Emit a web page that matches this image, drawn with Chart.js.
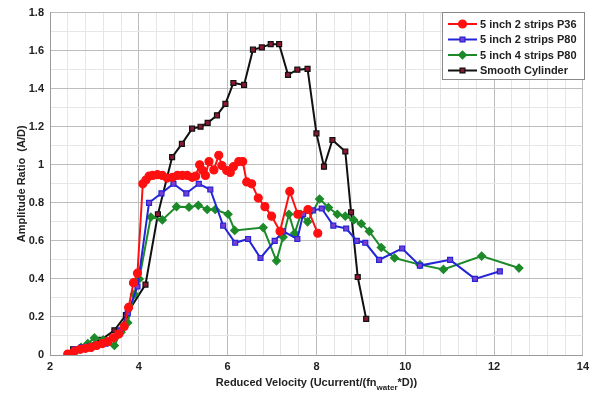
<!DOCTYPE html>
<html><head><meta charset="utf-8">
<script src="https://cdn.jsdelivr.net/npm/chart.js@4.4.0/dist/chart.umd.min.js"></script>
<style>html,body{margin:0;padding:0;background:#fff;}#wrap{position:relative;width:594px;height:395px;}</style>
</head><body><div id="wrap"><canvas id="c" width="594" height="395"></canvas></div>
<script>
const seriesNames = ["5 inch 2 strips P36", "5 inch 2 strips P80", "5 inch 4 strips P80", "Smooth Cylinder"];

const p36X = [2.40, 2.55, 2.68, 2.80, 2.92, 3.05, 3.18, 3.30, 3.42, 3.55, 3.67, 3.77, 3.88, 3.97, 4.09, 4.16, 4.23, 4.31, 4.42, 4.53, 4.64, 4.76, 4.87, 4.98, 5.09, 5.20, 5.28, 5.37, 5.44, 5.50, 5.58, 5.69, 5.80, 5.87, 5.98, 6.06, 6.13, 6.25, 6.34, 6.43, 6.54, 6.69, 6.84, 6.99, 7.18, 7.40, 7.58, 7.81, 8.03];
const p36Y = [0.005, 0.02, 0.03, 0.035, 0.04, 0.05, 0.06, 0.07, 0.09, 0.11, 0.15, 0.25, 0.38, 0.43, 0.90, 0.92, 0.94, 0.944, 0.948, 0.944, 0.93, 0.934, 0.944, 0.944, 0.944, 0.934, 0.94, 1.0, 0.97, 0.944, 1.017, 0.973, 1.05, 0.996, 0.97, 0.96, 0.99, 1.017, 1.017, 0.91, 0.90, 0.825, 0.78, 0.73, 0.65, 0.86, 0.74, 0.765, 0.64];

const p80X = [2.55, 2.71, 2.90, 3.05, 3.25, 3.41, 3.58, 3.75, 3.97, 4.23, 4.51, 4.78, 5.07, 5.35, 5.61, 5.90, 6.17, 6.46, 6.74, 7.06, 7.25, 7.57, 7.70, 7.92, 8.12, 8.38, 8.67, 8.91, 9.10, 9.41, 9.93, 10.33, 11.01, 11.57, 12.13];
const p80Y = [0.03, 0.04, 0.045, 0.05, 0.06, 0.09, 0.13, 0.22, 0.36, 0.80, 0.85, 0.90, 0.85, 0.90, 0.87, 0.68, 0.59, 0.61, 0.51, 0.60, 0.65, 0.61, 0.74, 0.76, 0.77, 0.68, 0.665, 0.60, 0.59, 0.50, 0.56, 0.47, 0.50, 0.40, 0.44];

const s4X = [2.70, 2.85, 3.00, 3.20, 3.45, 3.60, 3.75, 3.90, 4.01, 4.27, 4.53, 4.85, 5.13, 5.34, 5.54, 5.72, 6.01, 6.16, 6.80, 7.10, 7.25, 7.38, 7.51, 7.65, 7.80, 8.07, 8.27, 8.47, 8.65, 8.84, 9.01, 9.19, 9.46, 9.76, 10.33, 10.86, 11.72, 12.56];
const s4Y = [0.04, 0.06, 0.09, 0.08, 0.05, 0.12, 0.17, 0.32, 0.40, 0.725, 0.71, 0.78, 0.777, 0.787, 0.765, 0.765, 0.74, 0.655, 0.67, 0.495, 0.62, 0.74, 0.64, 0.74, 0.70, 0.82, 0.775, 0.74, 0.73, 0.71, 0.69, 0.65, 0.565, 0.51, 0.475, 0.45, 0.52, 0.457];

const smX = [2.52, 2.85, 3.15, 3.45, 3.71, 4.15, 4.43, 4.75, 4.97, 5.20, 5.39, 5.55, 5.76, 5.95, 6.13, 6.37, 6.57, 6.77, 6.97, 7.16, 7.36, 7.57, 7.80, 8.00, 8.17, 8.36, 8.65, 8.78, 8.93, 9.12];
const smY = [0.03, 0.05, 0.08, 0.13, 0.21, 0.37, 0.74, 1.04, 1.11, 1.19, 1.20, 1.22, 1.26, 1.32, 1.43, 1.42, 1.605, 1.617, 1.634, 1.634, 1.473, 1.50, 1.504, 1.165, 0.99, 1.13, 1.07, 0.75, 0.41, 0.19];

const xMajorLabels = ["2", "4", "6", "8", "10", "12", "14"];
const yMajorLabels = ["0", "0.2", "0.4", "0.6", "0.8", "1", "1.2", "1.4", "1.6", "1.8"];
const xTitleMain = "Reduced Velocity (Ucurrent/(fn";
const xTitleSub = "water";
const xTitleEnd = "*D))";
const yTitle = "Amplitude Ratio  (A/D)";

function pts(xs, ys) { return xs.map((x, i) => ({x: x, y: ys[i]})); }

const FONT = "bold 11px 'Liberation Sans', Arial, sans-serif";

const styles = [
  {line: '#ff1010', fill: '#ff1010', border: '#ff1010', ps: 'circle', r: 4},
  {line: '#2424d8', fill: '#7b3fd0', border: '#2424d8', ps: 'rect', r: 3.5},
  {line: '#1d8a2a', fill: '#1d8a2a', border: '#1d8a2a', ps: 'rectRot', r: 4},
  {line: '#111111', fill: '#8a1830', border: '#111111', ps: 'rect', r: 3.5}
];
const allData = [pts(p36X, p36Y), pts(p80X, p80Y), pts(s4X, s4Y), pts(smX, smY)];

const datasets = allData.map((d, i) => ({
  label: seriesNames[i],
  data: d,
  borderColor: styles[i].line,
  backgroundColor: styles[i].fill,
  pointBackgroundColor: styles[i].fill,
  pointBorderColor: styles[i].border,
  pointBorderWidth: 1.2,
  pointStyle: styles[i].ps,
  pointRadius: styles[i].r,
  borderWidth: 2,
  tension: 0,
  fill: false
}));

function isMajor(v, step) { return Math.abs(v / step - Math.round(v / step)) < 1e-6; }

const customPlugin = {
  id: 'custom',
  afterDraw(chart) {
    const ctx = chart.ctx;
    const ca = chart.chartArea;
    ctx.save();
    ctx.fillStyle = '#222';
    ctx.textBaseline = 'alphabetic';
    const subFont = "bold 8px 'Liberation Sans', Arial, sans-serif";
    ctx.font = FONT;
    const w1 = ctx.measureText(xTitleMain).width;
    const w3 = ctx.measureText(xTitleEnd).width;
    ctx.font = subFont;
    const w2 = ctx.measureText(xTitleSub).width;
    const total = w1 + w2 + w3;
    const cx = (ca.left + ca.right) / 2;
    let x0 = cx - total / 2;
    const by = 386;
    ctx.font = FONT; ctx.textAlign = 'left';
    ctx.fillText(xTitleMain, x0, by);
    ctx.font = subFont;
    ctx.fillText(xTitleSub, x0 + w1, by + 4);
    ctx.font = FONT;
    ctx.fillText(xTitleEnd, x0 + w1 + w2, by);
    ctx.save();
    ctx.translate(22, (ca.top + ca.bottom) / 2);
    ctx.rotate(-Math.PI / 2);
    ctx.textAlign = 'center';
    ctx.textBaseline = 'middle';
    ctx.font = FONT;
    ctx.fillText(yTitle, 0, 0);
    ctx.restore();
    const lx = 442, ly = 12, lw = 142, lh = 67;
    ctx.fillStyle = '#fff';
    ctx.fillRect(lx, ly, lw, lh);
    ctx.strokeStyle = '#888';
    ctx.lineWidth = 1;
    ctx.strokeRect(lx + 0.5, ly + 0.5, lw, lh);
    const rows = [24, 39.5, 55, 70.5];
    chart.data.datasets.forEach((ds, i) => {
      const yy = rows[i];
      ctx.strokeStyle = ds.borderColor;
      ctx.lineWidth = 2;
      ctx.beginPath(); ctx.moveTo(448, yy); ctx.lineTo(477, yy); ctx.stroke();
      ctx.fillStyle = ds.pointBackgroundColor;
      ctx.strokeStyle = ds.pointBorderColor;
      ctx.lineWidth = 1.2;
      Chart.helpers.drawPoint(ctx, {pointStyle: ds.pointStyle, radius: ds.pointRadius, borderWidth: 1.2, rotation: 0}, 462.5, yy);
      ctx.fillStyle = '#222';
      ctx.font = FONT;
      ctx.textAlign = 'left';
      ctx.textBaseline = 'middle';
      ctx.fillText(ds.label, 480, yy + 0.5);
    });
    ctx.restore();
  }
};

new Chart(document.getElementById('c'), {
  type: 'line',
  data: {datasets: datasets},
  options: {
    responsive: false,
    animation: false,
    layout: {padding: {top: 10, right: 7, left: 0, bottom: 0}},
    plugins: {legend: {display: false}, tooltip: {enabled: false}},
    scales: {
      x: {
        type: 'linear', min: 2, max: 14,
        afterFit: s => { s.height = 40; },
        ticks: {
          stepSize: 0.4, autoSkip: false, maxRotation: 0, padding: 5,
          color: '#222', font: {family: "'Liberation Sans', Arial, sans-serif", size: 11, weight: 'bold'},
          callback: v => isMajor(v - 2, 2) ? xMajorLabels[Math.round((v - 2) / 2)] : ''
        },
        grid: {
          drawTicks: false,
          color: c => (c.tick && isMajor(c.tick.value - 2, 2)) ? '#bdbdbd' : '#e6e6e6',
          lineWidth: 1
        },
        border: {color: '#9a9a9a'}
      },
      y: {
        type: 'linear', min: 0, max: 1.8,
        afterFit: s => { s.width = 50; },
        ticks: {
          stepSize: 0.1, autoSkip: false, padding: 6,
          color: '#222', font: {family: "'Liberation Sans', Arial, sans-serif", size: 11, weight: 'bold'},
          callback: v => isMajor(v, 0.2) ? yMajorLabels[Math.round(v / 0.2)] : ''
        },
        grid: {
          drawTicks: false,
          color: c => (c.tick && isMajor(c.tick.value, 0.2)) ? '#bdbdbd' : '#e6e6e6',
          lineWidth: 1
        },
        border: {color: '#9a9a9a'}
      }
    }
  },
  plugins: [customPlugin]
});
</script></body></html>
